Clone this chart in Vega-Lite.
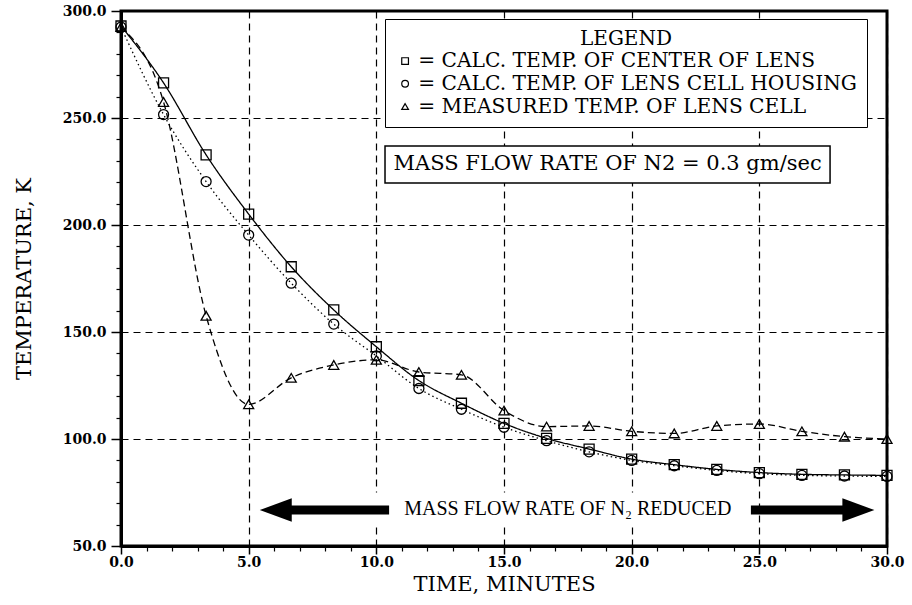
{
  "$schema": "https://vega.github.io/schema/vega-lite/v6.json",
  "width": 766,
  "height": 535,
  "autosize": {"type": "none"},
  "padding": {"left": 121, "top": 11, "right": 25, "bottom": 59},
  "background": "white",
  "layer": [
    {
      "data": {"name": "temps"},
      "mark": {"type": "line", "interpolate": "monotone", "color": "black", "strokeWidth": 1.3},
      "encoding": {
        "x": {
          "field": "t", "type": "quantitative",
          "scale": {"domain": [0, 30], "nice": false, "zero": false},
          "axis": {"orient": "bottom", "values": [0, 5, 10, 15, 20, 25, 30], "format": ".1f", "title": "TIME, MINUTES",
                   "tickSize": 8, "tickWidth": 1.5, "labelPadding": 1, "labelDx": 4, "grid": true, "titlePadding": 4, "labelFlush": false}
        },
        "y": {
          "field": "temp", "type": "quantitative",
          "scale": {"domain": [50, 300], "nice": false, "zero": false},
          "axis": {"orient": "left", "values": [50, 100, 150, 200, 250, 300], "format": ".1f", "title": "TEMPERATURE, K",
                   "tickSize": 10, "tickWidth": 1.5, "labelPadding": 5, "grid": true, "titlePadding": 28}
        },
        "strokeDash": {
          "field": "series", "type": "nominal",
          "scale": {"range": [[1, 0], [1.5, 3], [7, 4]]},
          "legend": null
        }
      }
    },
    {
      "data": {"name": "temps"},
      "mark": {"type": "point", "filled": false, "color": "black", "strokeWidth": 1.3, "size": 100, "opacity": 1},
      "encoding": {
        "x": {
          "field": "t", "type": "quantitative",
          "scale": {"domain": [0, 30], "nice": false, "zero": false},
          "axis": {"orient": "bottom", "values": [1, 2, 3, 4, 6, 7, 8, 9, 11, 12, 13, 14, 16, 17, 18, 19, 21, 22, 23, 24, 26, 27, 28, 29],
                   "labels": false, "domain": false, "grid": false, "title": null, "tickSize": 5, "tickWidth": 1.2}
        },
        "y": {
          "field": "temp", "type": "quantitative",
          "scale": {"domain": [50, 300], "nice": false, "zero": false},
          "axis": {"orient": "left", "values": [60, 70, 80, 90, 110, 120, 130, 140, 160, 170, 180, 190, 210, 220, 230, 240, 260, 270, 280, 290],
                   "labels": false, "domain": false, "grid": false, "title": null, "tickSize": 5, "tickWidth": 1.2}
        },
        "shape": {
          "field": "series", "type": "nominal",
          "scale": {"domain": ["= CALC. TEMP. OF CENTER OF LENS", "= CALC. TEMP. OF LENS CELL HOUSING", "= MEASURED TEMP. OF LENS CELL"],
                    "range": ["square", "circle", "triangle-up"]},
          "legend": {"title": "LEGEND"}
        }
      }
    },
    {
      "data": {"values": [{}]},
      "mark": {"type": "rect", "fill": "white", "stroke": "black", "strokeWidth": 1.5},
      "encoding": {
        "x": {"datum": 10.34, "type": "quantitative", "axis": null},
        "x2": {"datum": 27.77},
        "y": {"datum": 236.9, "type": "quantitative", "axis": null},
        "y2": {"datum": 219.6}
      }
    },
    {
      "data": {"values": [{}]},
      "mark": {"type": "text", "text": "MASS FLOW RATE OF N2 = 0.3 gm/sec", "font": "DejaVu Serif", "fontSize": 21, "fill": "black", "align": "center", "baseline": "middle"},
      "encoding": {
        "x": {"datum": 19.06, "type": "quantitative", "axis": null},
        "y": {"datum": 228.3, "type": "quantitative", "axis": null}
      }
    },
    {
      "data": {"values": [{}]},
      "mark": {"type": "rect", "fill": "white"},
      "encoding": {
        "x": {"datum": 9.8, "type": "quantitative", "axis": null},
        "x2": {"datum": 24.9},
        "y": {"datum": 60, "type": "quantitative", "axis": null},
        "y2": {"datum": 75}
      }
    },
    {
      "data": {"values": [{}]},
      "mark": {"type": "text", "text": "MASS FLOW RATE OF N₂ REDUCED", "font": "Liberation Serif", "fontSize": 20, "fill": "black", "align": "center", "baseline": "alphabetic"},
      "encoding": {
        "x": {"datum": 17.5, "type": "quantitative", "axis": null},
        "y": {"datum": 64.5, "type": "quantitative", "axis": null}
      }
    },
    {
      "data": {"values": [{}]},
      "mark": {"type": "rule", "color": "black", "strokeWidth": 9},
      "encoding": {
        "x": {"datum": 6.4, "type": "quantitative", "axis": null},
        "x2": {"datum": 10.5},
        "y": {"datum": 66.8, "type": "quantitative", "axis": null}
      }
    },
    {
      "data": {"values": [{}]},
      "mark": {"type": "rule", "color": "black", "strokeWidth": 9},
      "encoding": {
        "x": {"datum": 24.67, "type": "quantitative", "axis": null},
        "x2": {"datum": 28.5},
        "y": {"datum": 66.8, "type": "quantitative", "axis": null}
      }
    },
    {
      "data": {"values": [{}]},
      "mark": {"type": "point", "shape": "M -1,0 L 1,-0.73 L 1,0.73 Z", "filled": true, "color": "black", "size": 1024, "opacity": 1},
      "encoding": {
        "x": {"datum": 6.06, "type": "quantitative", "axis": null},
        "y": {"datum": 66.8, "type": "quantitative", "axis": null}
      }
    },
    {
      "data": {"values": [{}]},
      "mark": {"type": "point", "shape": "M 1,0 L -1,-0.73 L -1,0.73 Z", "filled": true, "color": "black", "size": 1024, "opacity": 1},
      "encoding": {
        "x": {"datum": 28.88, "type": "quantitative", "axis": null},
        "y": {"datum": 66.8, "type": "quantitative", "axis": null}
      }
    }
  ],
  "datasets": {
    "temps": [
      {"series": "= CALC. TEMP. OF CENTER OF LENS", "t": 0, "temp": 293.0},
      {"series": "= CALC. TEMP. OF CENTER OF LENS", "t": 1.667, "temp": 266.4},
      {"series": "= CALC. TEMP. OF CENTER OF LENS", "t": 3.333, "temp": 232.8},
      {"series": "= CALC. TEMP. OF CENTER OF LENS", "t": 5, "temp": 205.1},
      {"series": "= CALC. TEMP. OF CENTER OF LENS", "t": 6.667, "temp": 180.5},
      {"series": "= CALC. TEMP. OF CENTER OF LENS", "t": 8.333, "temp": 160.3},
      {"series": "= CALC. TEMP. OF CENTER OF LENS", "t": 10, "temp": 143.1},
      {"series": "= CALC. TEMP. OF CENTER OF LENS", "t": 11.667, "temp": 127.3},
      {"series": "= CALC. TEMP. OF CENTER OF LENS", "t": 13.333, "temp": 116.7},
      {"series": "= CALC. TEMP. OF CENTER OF LENS", "t": 15, "temp": 107.3},
      {"series": "= CALC. TEMP. OF CENTER OF LENS", "t": 16.667, "temp": 100.3},
      {"series": "= CALC. TEMP. OF CENTER OF LENS", "t": 18.333, "temp": 95.3},
      {"series": "= CALC. TEMP. OF CENTER OF LENS", "t": 20, "temp": 90.6},
      {"series": "= CALC. TEMP. OF CENTER OF LENS", "t": 21.667, "temp": 88.0},
      {"series": "= CALC. TEMP. OF CENTER OF LENS", "t": 23.333, "temp": 85.8},
      {"series": "= CALC. TEMP. OF CENTER OF LENS", "t": 25, "temp": 84.3},
      {"series": "= CALC. TEMP. OF CENTER OF LENS", "t": 26.667, "temp": 83.5},
      {"series": "= CALC. TEMP. OF CENTER OF LENS", "t": 28.333, "temp": 83.2},
      {"series": "= CALC. TEMP. OF CENTER OF LENS", "t": 30, "temp": 83.0},
      {"series": "= CALC. TEMP. OF LENS CELL HOUSING", "t": 0, "temp": 292.5},
      {"series": "= CALC. TEMP. OF LENS CELL HOUSING", "t": 1.667, "temp": 251.6},
      {"series": "= CALC. TEMP. OF LENS CELL HOUSING", "t": 3.333, "temp": 220.3},
      {"series": "= CALC. TEMP. OF LENS CELL HOUSING", "t": 5, "temp": 195.3},
      {"series": "= CALC. TEMP. OF LENS CELL HOUSING", "t": 6.667, "temp": 172.8},
      {"series": "= CALC. TEMP. OF LENS CELL HOUSING", "t": 8.333, "temp": 153.7},
      {"series": "= CALC. TEMP. OF LENS CELL HOUSING", "t": 10, "temp": 138.8},
      {"series": "= CALC. TEMP. OF LENS CELL HOUSING", "t": 11.667, "temp": 123.6},
      {"series": "= CALC. TEMP. OF LENS CELL HOUSING", "t": 13.333, "temp": 113.9},
      {"series": "= CALC. TEMP. OF LENS CELL HOUSING", "t": 15, "temp": 105.5},
      {"series": "= CALC. TEMP. OF LENS CELL HOUSING", "t": 16.667, "temp": 99.2},
      {"series": "= CALC. TEMP. OF LENS CELL HOUSING", "t": 18.333, "temp": 94.0},
      {"series": "= CALC. TEMP. OF LENS CELL HOUSING", "t": 20, "temp": 90.0},
      {"series": "= CALC. TEMP. OF LENS CELL HOUSING", "t": 21.667, "temp": 87.5},
      {"series": "= CALC. TEMP. OF LENS CELL HOUSING", "t": 23.333, "temp": 85.3},
      {"series": "= CALC. TEMP. OF LENS CELL HOUSING", "t": 25, "temp": 83.8},
      {"series": "= CALC. TEMP. OF LENS CELL HOUSING", "t": 26.667, "temp": 83.0},
      {"series": "= CALC. TEMP. OF LENS CELL HOUSING", "t": 28.333, "temp": 82.7},
      {"series": "= CALC. TEMP. OF LENS CELL HOUSING", "t": 30, "temp": 82.5},
      {"series": "= MEASURED TEMP. OF LENS CELL", "t": 0, "temp": 292.5},
      {"series": "= MEASURED TEMP. OF LENS CELL", "t": 1.667, "temp": 257.5},
      {"series": "= MEASURED TEMP. OF LENS CELL", "t": 3.333, "temp": 157.6},
      {"series": "= MEASURED TEMP. OF LENS CELL", "t": 5, "temp": 116.2},
      {"series": "= MEASURED TEMP. OF LENS CELL", "t": 6.667, "temp": 128.6},
      {"series": "= MEASURED TEMP. OF LENS CELL", "t": 8.333, "temp": 134.6},
      {"series": "= MEASURED TEMP. OF LENS CELL", "t": 10, "temp": 137.0},
      {"series": "= MEASURED TEMP. OF LENS CELL", "t": 11.667, "temp": 131.3},
      {"series": "= MEASURED TEMP. OF LENS CELL", "t": 13.333, "temp": 130.0},
      {"series": "= MEASURED TEMP. OF LENS CELL", "t": 15, "temp": 113.3},
      {"series": "= MEASURED TEMP. OF LENS CELL", "t": 16.667, "temp": 105.8},
      {"series": "= MEASURED TEMP. OF LENS CELL", "t": 18.333, "temp": 106.1},
      {"series": "= MEASURED TEMP. OF LENS CELL", "t": 20, "temp": 103.6},
      {"series": "= MEASURED TEMP. OF LENS CELL", "t": 21.667, "temp": 102.6},
      {"series": "= MEASURED TEMP. OF LENS CELL", "t": 23.333, "temp": 106.1},
      {"series": "= MEASURED TEMP. OF LENS CELL", "t": 25, "temp": 107.0},
      {"series": "= MEASURED TEMP. OF LENS CELL", "t": 26.667, "temp": 103.6},
      {"series": "= MEASURED TEMP. OF LENS CELL", "t": 28.333, "temp": 101.1},
      {"series": "= MEASURED TEMP. OF LENS CELL", "t": 30, "temp": 100.0}
    ]
  },
  "resolve": {"axis": {"x": "independent", "y": "independent"}},
  "config": {
    "view": {"stroke": "black", "strokeWidth": 3},
    "axis": {
      "domainColor": "black", "domainWidth": 3, "tickColor": "black",
      "gridColor": "black", "gridDash": [7, 5], "gridWidth": 1.2, "gridOpacity": 1,
      "labelFont": "DejaVu Serif", "labelFontWeight": "bold", "labelFontSize": 14, "labelColor": "black",
      "titleFont": "DejaVu Serif", "titleFontWeight": "normal", "titleFontSize": 21, "titleColor": "black"
    },
    "legend": {
      "orient": "none", "legendX": 264, "legendY": 8,
      "titleAnchor": "middle", "titleAlign": "center",
      "titleFont": "DejaVu Serif", "titleFontSize": 20, "titleFontWeight": "normal", "titleColor": "black", "titlePadding": 2,
      "labelFont": "DejaVu Serif", "labelFontSize": 20.2, "labelColor": "black", "labelLimit": 700, "labelOffset": 3,
      "symbolSize": 45, "symbolStrokeColor": "black", "symbolStrokeWidth": 1.2, "symbolFillColor": "white",
      "rowPadding": 1.7, "padding": 10, "strokeColor": "black", "fillColor": "white"
    }
  }
}
